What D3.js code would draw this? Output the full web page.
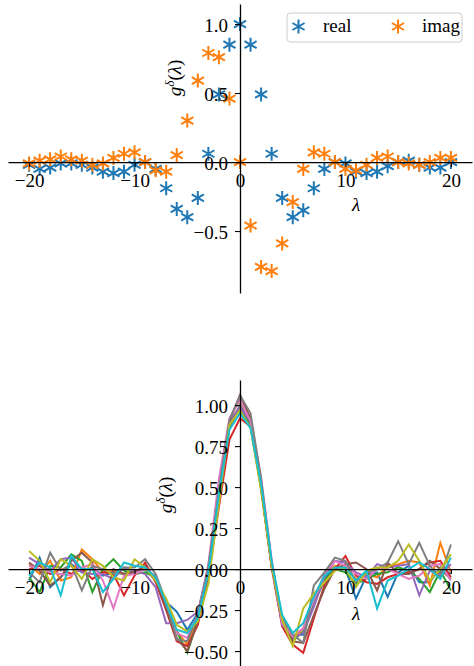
<!DOCTYPE html>
<html>
<head>
<meta charset="utf-8">
<script src="https://cdn.jsdelivr.net/npm/d3@7"></script>
</head>
<body style="margin:0;background:#fff">
<svg id="chart" width="474" height="666" style="display:block" font-family="Liberation Serif, Times New Roman, Tinos, Nimbus Roman"></svg>
<script>
// Lattice offsets
const lambdas = d3.range(-20, 21);

// Kernel g^δ(λ), real and imaginary parts
const realPart = [-0.02, -0.05, -0.04, -0.01, -0.01, -0.02, -0.04, -0.07, -0.08, -0.07, -0.02,
  0.00, -0.05, -0.19, -0.34, -0.40, -0.26, 0.06, 0.49, 0.85, 1.00,
  0.85, 0.49, 0.06, -0.26, -0.40, -0.35, -0.19, -0.05, 0.00, -0.01,
  -0.07, -0.08, -0.07, -0.03, 0.00, 0.01, -0.02, -0.04, -0.04, 0.00];
const imagPart = [-0.01, 0.01, 0.02, 0.04, 0.02, 0.01, -0.02, -0.01, 0.03, 0.06, 0.07,
  0.00, -0.06, -0.07, 0.05, 0.30, 0.59, 0.79, 0.76, 0.46, 0.00,
  -0.46, -0.76, -0.79, -0.59, -0.29, -0.05, 0.07, 0.06, 0.00, -0.05,
  -0.06, -0.02, 0.03, 0.04, 0.00, -0.01, -0.02, 0.00, 0.03, 0.03];
const seriesNames = ["real", "imag"];

// Ten sampled kernels
const run0 = [-0.07, 0.07, -0.11, -0.05, 0.03, -0.02, 0.01, -0.04, -0.02, -0.03, -0.01,
  0.00, -0.07, -0.20, -0.26, -0.37, -0.27, 0.02, 0.45, 0.87, 0.98,
  0.88, 0.52, 0.03, -0.33, -0.40, -0.40, -0.20, -0.06, 0.01, 0.00,
  -0.18, -0.04, -0.02, -0.17, -0.02, 0.02, -0.08, -0.08, 0.01, -0.03];
const run1 = [0.03, -0.03, 0.05, -0.07, -0.05, 0.12, 0.06, -0.02, -0.01, -0.03, -0.02,
  0.01, -0.06, -0.22, -0.38, -0.46, -0.30, -0.04, 0.42, 0.86, 1.00,
  0.90, 0.50, 0.02, -0.31, -0.43, -0.36, -0.18, -0.04, 0.02, 0.01,
  -0.06, -0.03, -0.05, 0.02, 0.03, 0.05, 0.04, -0.10, 0.16, -0.02];
const run2 = [-0.05, -0.14, 0.02, 0.01, 0.09, 0.05, -0.14, 0.00, 0.06, -0.01, -0.03,
  -0.02, -0.05, -0.21, -0.38, -0.51, -0.31, -0.05, 0.43, 0.87, 1.00,
  0.89, 0.51, 0.03, -0.32, -0.44, -0.38, -0.21, -0.07, 0.00, -0.02,
  -0.09, -0.06, -0.03, -0.02, 0.01, -0.01, -0.06, -0.14, -0.01, -0.13];
const run3 = [0.00, 0.02, -0.03, 0.00, -0.03, 0.00, -0.06, -0.02, -0.03, -0.16, -0.04,
  0.04, -0.08, -0.25, -0.44, -0.47, -0.34, -0.05, 0.38, 0.79, 0.92,
  0.87, 0.49, 0.01, -0.35, -0.46, -0.51, -0.30, -0.10, 0.00, 0.08,
  -0.04, -0.08, -0.09, -0.05, -0.03, -0.02, 0.00, 0.04, 0.05, -0.05];
const run4 = [0.07, 0.03, -0.01, 0.06, 0.07, -0.02, -0.03, -0.03, -0.06, 0.01, -0.01,
  -0.03, -0.11, -0.33, -0.33, -0.31, -0.26, 0.00, 0.48, 0.90, 0.99,
  0.90, 0.53, 0.02, -0.34, -0.42, -0.39, -0.23, -0.05, 0.05, 0.04,
  -0.02, -0.05, 0.03, 0.01, 0.02, 0.03, -0.16, -0.01, -0.03, 0.03];
const run5 = [0.04, -0.01, -0.10, -0.05, 0.05, 0.10, 0.04, -0.22, 0.00, -0.03, -0.02,
  0.02, -0.06, -0.24, -0.42, -0.50, -0.32, -0.02, 0.45, 0.90, 1.06,
  0.92, 0.50, 0.02, -0.30, -0.44, -0.45, -0.28, -0.12, 0.00, 0.03,
  0.04, 0.00, -0.13, 0.04, -0.03, -0.03, 0.00, 0.05, 0.00, -0.06];
const run6 = [0.02, 0.00, -0.02, -0.03, -0.04, 0.01, 0.03, -0.07, -0.24, -0.04, -0.03,
  0.00, -0.04, -0.21, -0.39, -0.42, -0.28, 0.03, 0.55, 0.92, 1.03,
  0.90, 0.56, 0.06, -0.33, -0.41, -0.36, -0.19, -0.03, 0.05, 0.02,
  -0.03, -0.06, 0.00, 0.00, -0.03, -0.06, -0.04, 0.02, 0.03, -0.07];
const run7 = [-0.02, -0.08, 0.10, -0.01, 0.03, -0.13, 0.02, 0.00, -0.03, 0.01, 0.01,
  0.06, -0.03, -0.20, -0.43, -0.44, -0.28, 0.01, 0.48, 0.91, 1.06,
  0.95, 0.55, 0.04, -0.30, -0.40, -0.45, -0.10, -0.02, 0.07, 0.05,
  -0.08, -0.02, 0.00, 0.04, 0.17, 0.03, 0.16, 0.02, -0.05, 0.15];
const run8 = [0.11, 0.05, -0.08, 0.06, 0.02, -0.06, 0.06, 0.02, -0.05, -0.07, 0.06,
  0.01, -0.07, -0.18, -0.34, -0.38, -0.32, -0.09, 0.40, 0.88, 0.97,
  0.86, 0.48, 0.02, -0.31, -0.47, -0.24, -0.15, -0.08, -0.01, 0.01,
  -0.11, -0.01, 0.01, 0.01, 0.05, 0.15, 0.05, -0.07, 0.00, 0.09];
const run9 = [-0.04, 0.04, 0.01, -0.16, 0.08, 0.00, 0.00, -0.14, -0.06, 0.04, 0.02,
  0.01, -0.05, -0.21, -0.37, -0.39, -0.30, -0.02, 0.46, 0.85, 0.95,
  0.86, 0.52, 0.05, -0.28, -0.39, -0.33, -0.17, -0.04, 0.01, 0.01,
  -0.07, -0.01, -0.24, -0.07, -0.04, 0.00, 0.04, 0.00, -0.06, 0.07];
const runs = [run0, run1, run2, run3, run4, run5, run6, run7, run8, run9];

// Tick values and labels
const xTicks = [-20, -10, 0, 10, 20];
const yTicksTop = [-0.5, 0.0, 0.5, 1.0];
const yTicksBottom = [-0.5, -0.25, 0.0, 0.25, 0.5, 0.75, 1.0];

const palette = d3.schemeCategory10;
const FONT = 19;
const FAMILY = '"Liberation Serif", "Times New Roman", Tinos, "Nimbus Roman"';
const minus = s => s.replace("-", "\u2212");

const svg = d3.select("#chart");

// Six-armed asterisk marker
const asterisk = {
  draw(ctx, r) {
    const t = r / 2, u = t * Math.sqrt(3);
    ctx.moveTo(0, -r); ctx.lineTo(0, r);
    ctx.moveTo(-u, -t); ctx.lineTo(u, t);
    ctx.moveTo(-u, t); ctx.lineTo(u, -t);
  }
};
const markerPath = d3.symbol().type(asterisk).size(7)();

function styleText(sel) {
  return sel.attr("font-family", FAMILY).attr("font-size", FONT).attr("fill", "#000")
    .style("font-family", FAMILY);
}

function drawAxes(g, x, y, yTicks, yFmt) {
  const xAxis = d3.axisBottom(x).tickValues(xTicks)
    .tickFormat(d => minus(d3.format("d")(d)))
    .tickSize(5).tickSizeOuter(0).tickPadding(6.5);
  const yAxis = d3.axisLeft(y).tickValues(yTicks)
    .tickFormat(d => minus(yFmt(d)))
    .tickSize(5).tickSizeOuter(0).tickPadding(7);
  const gx = g.append("g").attr("transform", `translate(0,${y(0)})`).call(xAxis);
  const gy = g.append("g").attr("transform", `translate(${x(0)},0)`).call(yAxis);
  [gx, gy].forEach(a => {
    a.attr("font-family", FAMILY).attr("font-size", FONT);
    a.select(".domain").attr("stroke", "#000").attr("stroke-width", 1.3);
    a.selectAll(".tick line").attr("stroke", "#000").attr("stroke-width", 1.1);
    styleText(a.selectAll(".tick text"));
  });
  gy.selectAll(".tick text").attr("dy", "0.37em");
  gx.selectAll(".tick text").attr("dy", "0.71em");
}

function yLabel(g, cx, cy) {
  const t = styleText(g.append("text"))
    .attr("transform", `translate(${cx},${cy}) rotate(-90)`)
    .attr("text-anchor", "middle");
  t.append("tspan").attr("font-style", "italic").text("g");
  t.append("tspan").attr("font-style", "italic").attr("font-size", FONT * 0.7)
    .attr("dy", -7).text("δ");
  t.append("tspan").attr("dy", 7).text("(");
  t.append("tspan").attr("font-style", "italic").text("λ");
  t.append("tspan").text(")");
}

function xLabel(g, cx, by) {
  styleText(g.append("text")).attr("x", cx).attr("y", by).attr("text-anchor", "middle")
    .attr("font-style", "italic").text("λ");
}

// ---------- Upper panel: real and imaginary parts ----------
const xTop = d3.scaleLinear().domain([-22, 22]).range([8, 472]);
const yTop = d3.scaleLinear().domain([-0.949, 1.145]).range([293, 4]);
const upper = svg.append("g");

const seriesTop = [realPart, imagPart];
seriesTop.forEach((vals, i) => {
  upper.append("g").selectAll("path").data(lambdas).join("path")
    .attr("d", markerPath)
    .attr("transform", (d, k) => `translate(${xTop(d)},${yTop(vals[k])})`)
    .attr("fill", "none").attr("stroke", palette[i]).attr("stroke-width", 2);
});
drawAxes(upper, xTop, yTop, yTicksTop, d3.format(".1f"));
yLabel(upper, 181, 78);
xLabel(upper, 356, 211);

// Legend
const leg = upper.append("g");
leg.append("rect").attr("x", 287).attr("y", 13).attr("width", 175).attr("height", 29)
  .attr("rx", 3.5).attr("fill", "#fff").attr("fill-opacity", 0.8)
  .attr("stroke", "#cccccc").attr("stroke-width", 1);
const legX = [298.5, 398];
const legTextX = [323, 422];
seriesNames.forEach((name, i) => {
  leg.append("path").attr("d", markerPath).attr("transform", `translate(${legX[i]},26.5)`)
    .attr("fill", "none").attr("stroke", palette[i]).attr("stroke-width", 2);
  styleText(leg.append("text")).attr("x", legTextX[i]).attr("y", 32).text(name);
});

// ---------- Lower panel: sampled kernels ----------
const xBot = d3.scaleLinear().domain([-22, 22]).range([8, 472]);
const yBot = d3.scaleLinear().domain([-0.591, 1.153]).range([666, 380]);
const lower = svg.append("g");
const line = d3.line().x((d, k) => xBot(lambdas[k])).y(d => yBot(d));
lower.append("g").selectAll("path").data(runs).join("path")
  .attr("d", line).attr("fill", "none")
  .attr("stroke", (d, i) => palette[i]).attr("stroke-width", 2)
  .attr("stroke-linejoin", "miter").attr("stroke-linecap", "butt");
drawAxes(lower, xBot, yBot, yTicksBottom, d3.format(".2f"));
yLabel(lower, 172, 495);
xLabel(lower, 356, 620);
</script>
</body>
</html>
